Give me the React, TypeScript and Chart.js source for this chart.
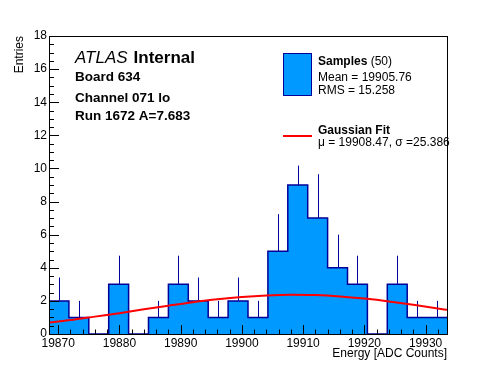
import React, { useEffect, useRef } from "react";
import { Chart, registerables } from "chart.js";

Chart.register(...registerables);

// ---- data ----
const histMin = 19868.5;
const histMax = 19933.5;
const binCounts = [2, 1, 0, 3, 0, 1, 3, 2, 1, 2, 1, 5, 9, 7, 4, 3, 0, 3, 1, 1];
const binErrors = [1.41, 1, 0, 1.73, 0, 1, 1.73, 1.41, 1, 1.41, 1, 2.24, 1.17, 2.65, 2, 1.73, 0, 1.73, 1, 1];
const fitX = [19868.5, 19872, 19876, 19880, 19884, 19888, 19892, 19896, 19900, 19904, 19908, 19912, 19916, 19920, 19924, 19928, 19932, 19933.5];
const fitY = [0.69, 0.84, 1.05, 1.26, 1.49, 1.71, 1.92, 2.1, 2.24, 2.33, 2.37, 2.35, 2.27, 2.14, 1.97, 1.76, 1.54, 1.46];
const xTicks = [19870, 19880, 19890, 19900, 19910, 19920, 19930];
const yTicks = [0, 2, 4, 6, 8, 10, 12, 14, 16, 18];
const xMinorStep = 2;
const yMinorStep = 0.5;

const titleLines = ["Board 634", "Channel 071 lo", "Run 1672 A=7.683"];
const legendSamples = ["Mean = 19905.76", "RMS = 15.258"];
const legendFit = "\u03bc = 19908.47, \u03c3 =25.386";

const F = "'Liberation Sans', Arial, Helvetica, sans-serif";
const FILL = "#0099ff";
const NAVY = "#000099";
const RED = "#ff0000";

const binWidth = (histMax - histMin) / binCounts.length;

export default function App() {
  const ref = useRef<HTMLCanvasElement | null>(null);

  useEffect(() => {
    const canvas = ref.current;
    if (!canvas) return;

    const stepPts = binCounts.map((c, i) => ({ x: histMin + i * binWidth, y: c }));
    stepPts.push({ x: histMax, y: binCounts[binCounts.length - 1] });
    const fitPts = fitX.map((x, i) => ({ x, y: fitY[i] }));

    const errorBars = {
      id: "errorBars",
      afterDatasetDraw(chart: any, args: any) {
        if (args.index !== 1) return;
        const { ctx, chartArea: a } = chart;
        const xs = chart.scales.x;
        const ys = chart.scales.y;
        ctx.save();
        ctx.beginPath();
        ctx.rect(a.left, a.top, a.right - a.left, a.bottom - a.top);
        ctx.clip();
        ctx.strokeStyle = NAVY;
        ctx.lineWidth = 1;
        binCounts.forEach((c, i) => {
          const e = binErrors[i];
          if (!(e > 0)) return;
          const px = Math.round(xs.getPixelForValue(histMin + (i + 0.5) * binWidth)) + 0.5;
          ctx.beginPath();
          ctx.moveTo(px, ys.getPixelForValue(c));
          ctx.lineTo(px, ys.getPixelForValue(c + e));
          ctx.stroke();
        });
        ctx.restore();
      },
    };

    const frame = {
      id: "frameTicks",
      afterDatasetsDraw(chart: any) {
        const { ctx, chartArea: a } = chart;
        const xs = chart.scales.x;
        const ys = chart.scales.y;
        ctx.save();
        ctx.strokeStyle = "#000";
        ctx.lineWidth = 1;
        ctx.beginPath();
        // x ticks
        for (let v = xTicks[0] - 10; v <= histMax + 1e-9; v += xMinorStep) {
          if (v < histMin) continue;
          const px = Math.round(xs.getPixelForValue(v)) + 0.5;
          const major = xTicks.includes(v);
          ctx.moveTo(px, a.bottom);
          ctx.lineTo(px, a.bottom - (major ? 9 : 4.5));
        }
        // y ticks
        for (let v = yTicks[0]; v <= yTicks[yTicks.length - 1] + 1e-9; v += yMinorStep) {
          const py = Math.round(ys.getPixelForValue(v)) + 0.5;
          const major = yTicks.includes(v);
          ctx.moveTo(a.left, py);
          ctx.lineTo(a.left + (major ? 10 : 5), py);
        }
        ctx.stroke();
        ctx.strokeRect(Math.round(a.left) + 0.5, Math.round(a.top) + 0.5, Math.round(a.right - a.left), Math.round(a.bottom - a.top));
        ctx.restore();
      },
      afterDraw(chart: any) {
        const { ctx } = chart;
        ctx.save();
        ctx.fillStyle = "#000";
        ctx.textAlign = "left";
        ctx.textBaseline = "alphabetic";
        // ATLAS label
        ctx.font = `italic 17px ${F}`;
        ctx.fillText("ATLAS", 75, 63);
        const w = ctx.measureText("ATLAS").width;
        ctx.font = `bold 17px ${F}`;
        ctx.fillText("Internal", 75 + w + 6, 63);
        ctx.font = `bold 13.5px ${F}`;
        ctx.fillText(titleLines[0], 75, 81);
        ctx.fillText(titleLines[1], 75, 101.5);
        ctx.fillText(titleLines[2], 75, 120);

        // legend: samples
        ctx.fillStyle = FILL;
        ctx.fillRect(283, 53, 29, 43);
        ctx.strokeStyle = NAVY;
        ctx.lineWidth = 1;
        ctx.strokeRect(283.5, 53.5, 28, 42);
        ctx.fillStyle = "#000";
        ctx.font = `bold 12px ${F}`;
        ctx.fillText("Samples", 318, 65);
        const sw = ctx.measureText("Samples ").width;
        ctx.font = `12px ${F}`;
        ctx.fillText("(50)", 318 + sw, 65);
        ctx.fillText(legendSamples[0], 318, 80.5);
        ctx.fillText(legendSamples[1], 318, 94);

        // legend: fit
        ctx.strokeStyle = RED;
        ctx.lineWidth = 2;
        ctx.beginPath();
        ctx.moveTo(283, 136);
        ctx.lineTo(312, 136);
        ctx.stroke();
        ctx.fillStyle = "#000";
        ctx.font = `bold 12px ${F}`;
        ctx.fillText("Gaussian Fit", 318, 133.5);
        ctx.font = `12px ${F}`;
        ctx.fillText(legendFit, 318, 146);
        ctx.restore();
      },
    };

    const chart = new Chart(canvas, {
      type: "line",
      data: {
        datasets: [
          {
            label: "Gaussian Fit",
            data: fitPts,
            borderColor: RED,
            borderWidth: 2,
            pointRadius: 0,
            fill: false,
            cubicInterpolationMode: "monotone",
          } as any,
          {
            label: "Samples",
            data: stepPts,
            stepped: true,
            borderColor: NAVY,
            borderWidth: 1.5,
            backgroundColor: FILL,
            pointRadius: 0,
            fill: "origin",
          } as any,
        ],
      },
      options: {
        responsive: false,
        animation: false,
        devicePixelRatio: 1,
        events: [],
        layout: { padding: { left: 0, top: 36, right: 49, bottom: 0 } },
        plugins: { legend: { display: false }, tooltip: { enabled: false } },
        scales: {
          x: {
            type: "linear",
            min: histMin,
            max: histMax,
            grid: { display: false, drawTicks: false },
            border: { display: false },
            afterBuildTicks: (s: any) => {
              s.ticks = xTicks.map((v) => ({ value: v }));
            },
            afterFit: (s: any) => {
              s.height = 38;
            },
            ticks: {
              padding: 2,
              color: "#000",
              autoSkip: false,
              maxRotation: 0,
              font: { family: F, size: 12 },
              callback: (v: any) => String(v),
            },
            title: {
              display: true,
              text: "Energy [ADC Counts]",
              align: "end",
              color: "#000",
              font: { family: F, size: 12 },
              padding: { top: 0, bottom: 11 },
            },
          } as any,
          y: {
            min: 0,
            max: 18,
            grid: { display: false, drawTicks: false },
            border: { display: false },
            afterBuildTicks: (s: any) => {
              s.ticks = yTicks.map((v) => ({ value: v }));
            },
            afterFit: (s: any) => {
              s.width = 49;
            },
            ticks: {
              padding: 2,
              color: "#000",
              font: { family: F, size: 12 },
              callback: (v: any) => String(v),
            },
            title: {
              display: true,
              text: "Entries",
              align: "end",
              color: "#000",
              font: { family: F, size: 12 },
              padding: { top: 12, bottom: 0 },
            },
          } as any,
        },
      },
      plugins: [errorBars, frame],
    });

    return () => chart.destroy();
  }, []);

  return (
    <div style={{ position: "absolute", left: 0, top: 0, width: 496, height: 372, background: "#fff" }}>
      <canvas ref={ref} width={496} height={372} style={{ display: "block", width: 496, height: 372 }} />
    </div>
  );
}
